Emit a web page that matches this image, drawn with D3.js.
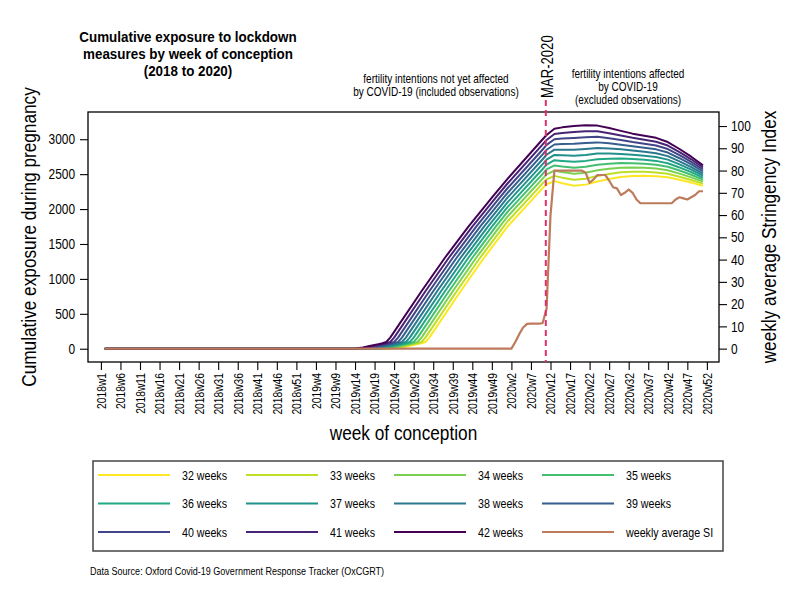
<!DOCTYPE html>
<html>
<head>
<meta charset="utf-8">
<script src="https://cdn.jsdelivr.net/npm/d3@7"></script>
<style>
  body { margin: 0; background: #fff; }
  svg { display: block; }
  .axis text { font-family: "Liberation Sans Narrow", "Arial Narrow", "Liberation Sans", Arial, sans-serif; fill: #000; }
</style>
</head>
<body>
<svg id="chart" width="800" height="600"></svg>
<script>
// week positions: 0 = 2018w1, 2018 and 2019 have 52 weeks
var tickLabels = ["2018w1", "2018w6", "2018w11", "2018w16", "2018w21", "2018w26", "2018w31", "2018w36",
  "2018w41", "2018w46", "2018w51", "2019w4", "2019w9", "2019w14", "2019w19", "2019w24", "2019w29",
  "2019w34", "2019w39", "2019w44", "2019w49", "2020w2", "2020w7", "2020w12", "2020w17", "2020w22",
  "2020w27", "2020w32", "2020w37", "2020w42", "2020w47", "2020w52"];
var leftTicks = [0, 500, 1000, 1500, 2000, 2500, 3000];
var rightTicks = [0, 10, 20, 30, 40, 50, 60, 70, 80, 90, 100];
var marchWeek = 113.8;
var titleLines = ["Cumulative exposure to lockdown", "measures by week of conception", "(2018 to 2020)"];

var lengths = [32, 33, 34, 35, 36, 37, 38, 39, 40, 41, 42];

var w32 = [[1,0],[73,0],[75,4],[77,19],[79,43],[81,66],[82,78],[83,97],[84,159],[85,242],[92,823],[98,1303],[104,1750],[113,2300],
  [114,2355],[116,2400],[118,2370],[121,2335],[124,2350],[127,2395],[130,2430],[133,2460],[136,2475],[139,2478],[142,2470],[145,2455],[148,2420],[151,2380],[154,2335]];
var w33 = [[1,0],[72,0],[74,4],[76,19],[78,43],[80,66],[81,78],[82,97],[83,159],[84,242],[91,823],[97,1303],[103,1750],[104,1822],[113,2367],
  [114,2426],[116,2475],[118,2450],[121,2421],[124,2435],[127,2475],[130,2503],[133,2526],[136,2536],[139,2535],[142,2525],[145,2506],[148,2464],[151,2417],[154,2364]];
var w34 = [[1,0],[71,0],[73,4],[75,19],[77,43],[79,66],[80,78],[81,97],[82,159],[83,242],[90,823],[96,1303],[102,1750],[104,1892],[113,2435],
  [114,2496],[116,2550],[118,2530],[121,2506],[124,2520],[127,2555],[130,2576],[133,2592],[136,2596],[139,2592],[142,2580],[145,2556],[148,2508],[151,2454],[154,2393]];
var w35 = [[1,0],[70,0],[72,4],[74,19],[76,43],[78,66],[79,78],[80,97],[81,159],[82,242],[89,823],[95,1303],[101,1750],[104,1959],[113,2504],
  [114,2567],[116,2625],[118,2610],[121,2592],[124,2605],[127,2635],[130,2649],[133,2658],[136,2657],[139,2650],[142,2635],[145,2607],[148,2552],[151,2491],[154,2422]];
var w36 = [[1,0],[69,0],[71,4],[73,19],[75,43],[77,66],[78,78],[79,97],[80,159],[81,242],[88,823],[94,1303],[100,1750],[104,2027],[113,2574],
  [114,2637],[116,2700],[118,2690],[121,2677],[124,2690],[127,2715],[130,2722],[133,2724],[136,2717],[139,2707],[142,2690],[145,2657],[148,2596],[151,2528],[154,2451]];
var w37 = [[1,0],[68,0],[70,4],[72,19],[74,43],[76,66],[77,78],[78,97],[79,159],[80,242],[87,823],[93,1303],[99,1750],[104,2095],[113,2643],
  [114,2708],[116,2775],[118,2770],[121,2763],[124,2775],[127,2795],[130,2795],[133,2790],[136,2778],[139,2764],[142,2745],[145,2708],[148,2640],[151,2565],[154,2480]];
var w38 = [[1,0],[67,0],[69,4],[71,19],[73,43],[75,66],[76,78],[77,97],[78,159],[79,242],[86,823],[92,1303],[98,1750],[104,2163],[113,2713],
  [114,2778],[116,2850],[118,2850],[121,2848],[124,2860],[127,2875],[130,2868],[133,2856],[136,2838],[139,2821],[142,2800],[145,2758],[148,2684],[151,2602],[154,2509]];
var w39 = [[1,0],[66,0],[68,4],[70,19],[72,43],[74,66],[75,78],[76,97],[77,159],[78,242],[85,823],[91,1303],[97,1750],[103,2163],[104,2230],[113,2783],
  [114,2849],[116,2925],[118,2930],[121,2934],[124,2945],[127,2955],[130,2941],[133,2922],[136,2899],[139,2878],[142,2855],[145,2809],[148,2728],[151,2639],[154,2538]];
var w40 = [[1,0],[65,0],[67,4],[69,19],[71,43],[73,66],[74,78],[75,97],[76,159],[77,242],[84,823],[90,1303],[96,1750],[102,2163],[104,2298],[113,2853],
  [114,2919],[116,3000],[118,3010],[121,3019],[124,3030],[127,3035],[130,3014],[133,2988],[136,2959],[139,2936],[142,2910],[145,2859],[148,2772],[151,2676],[154,2567]];
var w41 = [[1,0],[64,0],[66,4],[68,19],[70,43],[72,66],[73,78],[74,97],[75,159],[76,242],[83,823],[89,1303],[95,1750],[101,2163],[104,2366],[113,2926],
  [114,2990],[116,3075],[118,3090],[121,3105],[124,3115],[127,3115],[130,3087],[133,3054],[136,3020],[139,2993],[142,2965],[145,2910],[148,2816],[151,2713],[154,2596]];
var w42 = [[1,0],[63,0],[65,4],[67,19],[69,43],[71,66],[72,78],[73,97],[74,159],[75,242],[82,823],[88,1303],[94,1750],[100,2163],[104,2433],[113,3000],
  [114,3060],[116,3150],[118,3170],[121,3190],[124,3200],[127,3195],[130,3160],[133,3120],[136,3080],[139,3050],[142,3020],[145,2960],[148,2860],[151,2750],[154,2625]];

// weekly average stringency index
var siWeekly = [[1,0],[104,0],[105,0],[106,3],[107,6.5],[108,9.5],[109,11.1],[110,11.2],[111,11.2],[112,11.2],[113,11.5],
  [114,18],[115,60],[116,80],[117,80],[118,80],[119,80],[120,80],[121,80],[122,80],[123,80],[124,79],[125,74.5],
  [126,76],[127,78],[128,78],[129,78],[130,75.5],[131,72.5],[132,72],[133,69],[134,70],[135,71.5],[136,70],[137,67],
  [138,65.3],[139,65.3],[140,65.3],[141,65.3],[142,65.3],[143,65.3],[144,65.3],[145,65.3],[146,65.3],[147,67],
  [148,68],[149,67.5],[150,67],[151,68],[152,69],[153,70.7],[154,70.7]];

var font = '"Liberation Sans Narrow", "Arial Narrow", "Liberation Sans", Arial, sans-serif';
var siColor = "#bd7b5c";

function weekIndex(label) {
  var parts = label.split("w");
  return (+parts[0] - 2018) * 52 + (+parts[1]) - 1;
}

function init() {
  var svg = d3.select("#chart");
  var plot = { left: 88, right: 719, top: 112, bottom: 362 };

  var x = d3.scaleLinear().domain([-3.3, 158.1]).range([plot.left, plot.right]);
  var y = d3.scaleLinear().domain([-190, 3390]).range([plot.bottom, plot.top]);
  var y2 = d3.scaleLinear().domain([-6, 106.3]).range([plot.bottom, plot.top]);

  var allSeries = [w32, w33, w34, w35, w36, w37, w38, w39, w40, w41, w42];
  var colors = d3.quantize(d3.interpolateViridis, 11).reverse();

  svg.append("rect").attr("width", 800).attr("height", 600).attr("fill", "#fff");

  // axes
  var xAxis = d3.axisBottom(x)
    .tickValues(tickLabels.map(weekIndex))
    .tickFormat(function (d, i) { return tickLabels[i]; })
    .tickSize(8).tickPadding(3);
  var gx = svg.append("g").attr("class", "axis")
    .attr("transform", "translate(0," + plot.bottom + ")")
    .call(xAxis);
  gx.selectAll("text")
    .attr("transform", "rotate(-90)")
    .attr("x", -11).attr("y", 0).attr("dy", "0.35em")
    .style("text-anchor", "end")
    .style("font-size", "12.5px");

  var gy = svg.append("g").attr("class", "axis")
    .attr("transform", "translate(" + plot.left + ",0)")
    .call(d3.axisLeft(y).tickValues(leftTicks).tickFormat(d3.format("d")).tickSize(8).tickPadding(5));
  gy.selectAll("text").style("font-size", "14.5px");

  var gy2 = svg.append("g").attr("class", "axis")
    .attr("transform", "translate(" + plot.right + ",0)")
    .call(d3.axisRight(y2).tickValues(rightTicks).tickSize(8).tickPadding(4));
  gy2.selectAll("text").style("font-size", "14.5px");

  svg.selectAll(".axis .domain").remove();
  svg.selectAll(".axis line").attr("stroke", "#000").attr("stroke-width", 1.1);

  svg.append("rect")
    .attr("x", plot.left).attr("y", plot.top)
    .attr("width", plot.right - plot.left).attr("height", plot.bottom - plot.top)
    .attr("fill", "none").attr("stroke", "#000").attr("stroke-width", 1.3);

  // lines
  var line = d3.line().x(function (d) { return x(d[0]); }).y(function (d) { return y(d[1]); });
  svg.append("g").selectAll("path")
    .data(allSeries)
    .enter().append("path")
    .attr("d", line)
    .attr("fill", "none")
    .attr("stroke", function (d, i) { return colors[i]; })
    .attr("stroke-width", 2)
    .attr("stroke-linejoin", "round");

  var siLine = d3.line().x(function (d) { return x(d[0]); }).y(function (d) { return y2(d[1]); });
  svg.append("path")
    .datum(siWeekly)
    .attr("d", siLine)
    .attr("fill", "none")
    .attr("stroke", siColor)
    .attr("stroke-width", 2.2)
    .attr("stroke-linejoin", "round");

  svg.append("line")
    .attr("x1", x(marchWeek)).attr("x2", x(marchWeek))
    .attr("y1", 100).attr("y2", plot.bottom)
    .attr("stroke", "#e0306a").attr("stroke-width", 2)
    .attr("stroke-dasharray", "6,4");

  // texts
  function addText(tx, ty, str, size, anchor, weight, rotate) {
    var t = svg.append("text")
      .attr("x", tx).attr("y", ty)
      .attr("text-anchor", anchor || "middle")
      .style("font-family", font)
      .style("font-size", size + "px")
      .style("font-weight", weight || "normal")
      .text(str);
    if (rotate) t.attr("transform", "rotate(-90," + tx + "," + ty + ")");
    return t;
  }

  var titleTexts = titleLines.map(function (s, i) {
    return addText(188, 42 + i * 17.2, s, 15.4, "middle", "bold").attr("class", "title");
  });

  addText(436, 83, "fertility intentions not yet affected", 12.2);
  addText(436, 96, "by COVID-19 (included observations)", 12.2);
  addText(628, 78, "fertility intentions affected", 12.2);
  addText(628, 91, "by COVID-19", 12.2);
  addText(628, 104, "(excluded observations)", 12.2);

  addText(x(marchWeek) + 7, 98, "MAR-2020", 16, "start", "normal", true);

  addText(36, (plot.top + plot.bottom) / 2, "Cumulative exposure during pregnancy", 21, "middle", "normal", true);
  addText(776, (plot.top + plot.bottom) / 2, "weekly average Stringency Index", 21, "middle", "normal", true);
  addText((plot.left + plot.right) / 2, 440, "week of conception", 21);

  // legend
  var legend = svg.append("g");
  legend.append("rect")
    .attr("x", 93).attr("y", 461).attr("width", 630).attr("height", 90)
    .attr("fill", "none").attr("stroke", "#444").attr("stroke-width", 1.5);

  var legendItems = lengths.map(function (l, i) { return { label: l + " weeks", color: colors[i] }; });
  legendItems.push({ label: "weekly average SI", color: siColor });

  var items = legend.selectAll("g.item")
    .data(legendItems)
    .enter().append("g")
    .attr("class", "item")
    .attr("transform", function (d, i) {
      return "translate(" + (98 + (i % 4) * 148) + "," + (475 + Math.floor(i / 4) * 28.5) + ")";
    });
  items.append("line")
    .attr("x1", 0).attr("x2", 72)
    .attr("stroke", function (d) { return d.color; })
    .attr("stroke-width", 2);
  items.append("text")
    .attr("x", 84).attr("y", 4.5)
    .style("font-family", font)
    .style("font-size", "13px")
    .text(function (d) { return d.label; });

  addText(90, 575, "Data Source: Oxford Covid-19 Government Response Tracker (OxCGRT)", 11, "start");

  // the reference uses a narrow face: squeeze every label horizontally
  svg.selectAll("text").each(function () {
    var len = this.getComputedTextLength();
    var k = this.getAttribute("class") === "title" ? 0.87 : 0.82;
    d3.select(this).attr("textLength", len * k).attr("lengthAdjust", "spacingAndGlyphs");
  });
}

window.addEventListener("DOMContentLoaded", init);
</script>
</body>
</html>
